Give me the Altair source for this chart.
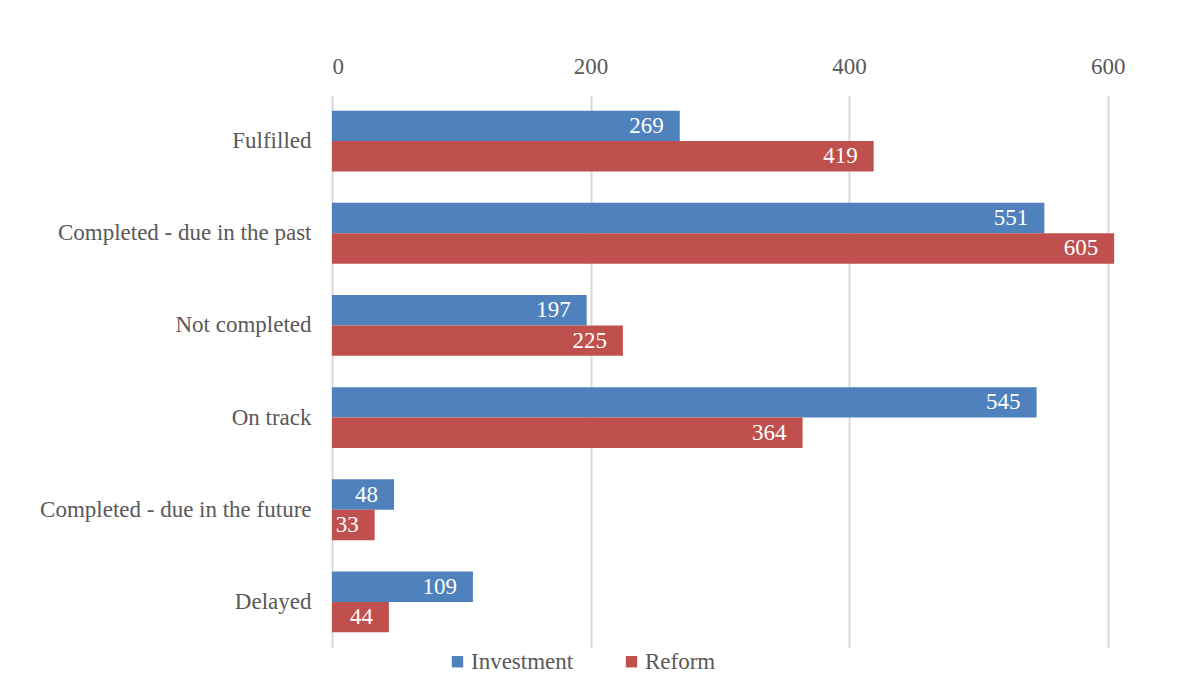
import altair as alt
import pandas as pd

categories = ["Fulfilled", "Completed - due in the past", "Not completed", "On track",
              "Completed - due in the future", "Delayed"]
investment = [269, 551, 197, 545, 48, 109]
reform = [419, 605, 225, 364, 33, 44]
series = ["Investment", "Reform"]
colors = ["#4F81BD", "#C0504D"]

rows = []
for c, i, r in zip(categories, investment, reform):
    rows.append({"category": c, "series": "Investment", "value": i})
    rows.append({"category": c, "series": "Reform", "value": r})
df = pd.DataFrame(rows)

FONT = "Liberation Serif, 'Times New Roman', Times, serif"
GREY = "#595959"
FS = 23

base = alt.Chart(df).encode(
    y=alt.Y("category:N", sort=categories,
            scale=alt.Scale(paddingInner=0.34, paddingOuter=0.17),
            axis=alt.Axis(title=None, ticks=False, domain=False, labelPadding=21,
                          labelLimit=0,
                          labelFont=FONT, labelFontSize=FS, labelColor=GREY, grid=False)),
    yOffset=alt.YOffset("series:N", sort=series),
)

bars = base.mark_bar().encode(
    x=alt.X("value:Q", scale=alt.Scale(domain=[0, 625], nice=False),
            axis=alt.Axis(orient="top", title=None, values=[0, 200, 400, 600],
                          ticks=False, domain=False, labelPadding=17,
                          labelFont=FONT, labelFontSize=FS, labelColor=GREY,
                          grid=True, gridColor="#d9d9d9", gridWidth=2)),
    color=alt.Color("series:N", sort=series,
                    scale=alt.Scale(domain=series, range=colors),
                    legend=alt.Legend(title=None, orient="none", direction="horizontal",
                                      legendX=114, legendY=555, symbolType="square",
                                      symbolSize=130, symbolStrokeWidth=0, symbolOpacity=1,
                                      labelFont=FONT, labelFontSize=FS, labelColor=GREY,
                                      labelOffset=2, columnPadding=46)),
)

labels = base.mark_text(align="right", baseline="middle", dx=-16, color="white",
                        font=FONT, fontSize=FS).encode(
    x=alt.X("value:Q"),
    text=alt.Text("value:Q"),
)

chart = alt.layer(bars, labels).properties(
    width=808, height=553,
    autosize=alt.AutoSizeParams(type="none"),
    padding={"left": 324, "top": 87, "right": 49, "bottom": 28},
).configure_view(stroke=None)

chart.save("out.html", embed_options={"renderer": "svg", "actions": False})
